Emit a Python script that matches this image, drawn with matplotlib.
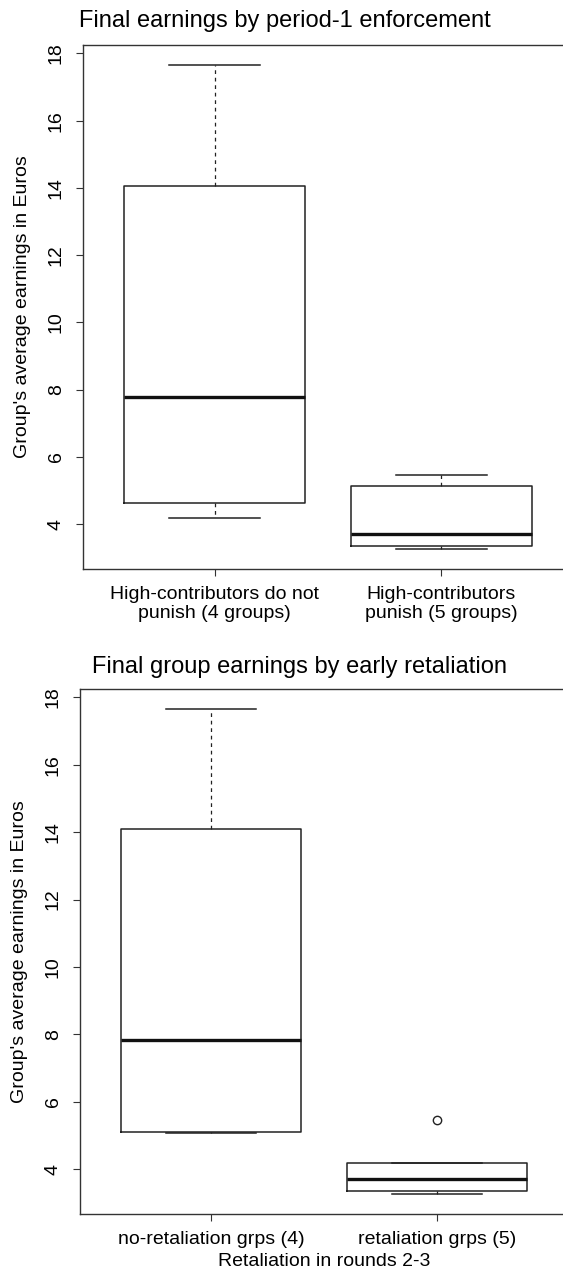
import numpy as np
import matplotlib
matplotlib.use("Agg")
import matplotlib.pyplot as plt

plt.rcParams['font.family'] = ['Liberation Sans', 'DejaVu Sans']

# group averages (Euros)
top_labels = ["High-contributors do not\npunish (4 groups)", "High-contributors\npunish (5 groups)"]
top_no_punish = [4.18, 5.10, 10.44, 17.66]
top_punish = [3.25, 3.34, 3.70, 5.15, 5.47]

bot_labels = ["no-retaliation grps (4)", "retaliation grps (5)"]
bot_no_retal = [5.06, 5.16, 10.52, 17.67]
bot_retal = [3.25, 3.36, 3.70, 4.18, 5.46]

yticks = [4, 6, 8, 10, 12, 14, 16, 18]


def r_stats(x):
    # R's boxplot.stats: Tukey hinges + 1.5*IQR whiskers
    x = np.sort(np.asarray(x, float))
    n = len(x)
    n4 = np.floor((n + 3) / 2) / 2
    d = np.array([1, n4, (n + 1) / 2, n + 1 - n4, n]) - 1
    fn = 0.5 * (x[np.floor(d).astype(int)] + x[np.ceil(d).astype(int)])
    iqr = fn[3] - fn[1]
    inside = x[(x >= fn[1] - 1.5 * iqr) & (x <= fn[3] + 1.5 * iqr)]
    return dict(med=fn[2], q1=fn[1], q3=fn[3],
                whislo=inside.min(), whishi=inside.max(),
                fliers=x[(x < inside.min()) | (x > inside.max())])


def draw(ax, groups, labels):
    stats = [r_stats(g) for g in groups]
    ax.bxp(stats, positions=[1, 2], widths=0.8, capwidths=0.4,
           boxprops=dict(color='#222222', lw=1.1),
           medianprops=dict(color='#111111', lw=2.4),
           whiskerprops=dict(color='#222222', lw=0.9, ls=(0, (3, 3))),
           capprops=dict(color='#222222', lw=1.1),
           flierprops=dict(marker='o', mfc='none', mec='#222222', ms=6, mew=1))
    ax.set_xlim(0.42, 2.58)
    ax.set_ylim(2.67, 18.25)
    ax.set_yticks(yticks)
    ax.set_yticklabels([str(t) for t in yticks], rotation=90, va='center')
    ax.set_xticks([1, 2])
    ax.set_xticklabels(labels, linespacing=1.2)
    ax.tick_params(axis='y', length=5, width=0.8, pad=8, labelsize=14, color='#333333')
    ax.tick_params(axis='x', length=5, width=0.8, pad=7, labelsize=14, color='#333333')
    for s in ax.spines.values():
        s.set_color('#333333')
        s.set_linewidth(1.0)
    ax.set_ylabel("Group's average earnings in Euros", fontsize=14, labelpad=12)


fig = plt.figure(figsize=(5.63, 12.71), dpi=100)
W, H = 563, 1271

ax1 = fig.add_axes([83 / W, 1 - 569 / H, (573 - 83) / W, (569 - 45) / H])
draw(ax1, [top_no_punish, top_punish], top_labels)
fig.text(285 / W, 1 - 27 / H, "Final earnings by period-1 enforcement",
         ha='center', va='baseline', fontsize=17)

ax2 = fig.add_axes([80 / W, 1 - 1214 / H, (568 - 80) / W, (1214 - 689) / H])
draw(ax2, [bot_no_retal, bot_retal], bot_labels)
ax2.set_xlabel("Retaliation in rounds 2-3", fontsize=14, labelpad=4)
fig.text(300 / W, 1 - 673 / H, "Final group earnings by early retaliation",
         ha='center', va='baseline', fontsize=17)

fig.savefig("out.png", dpi=100)
